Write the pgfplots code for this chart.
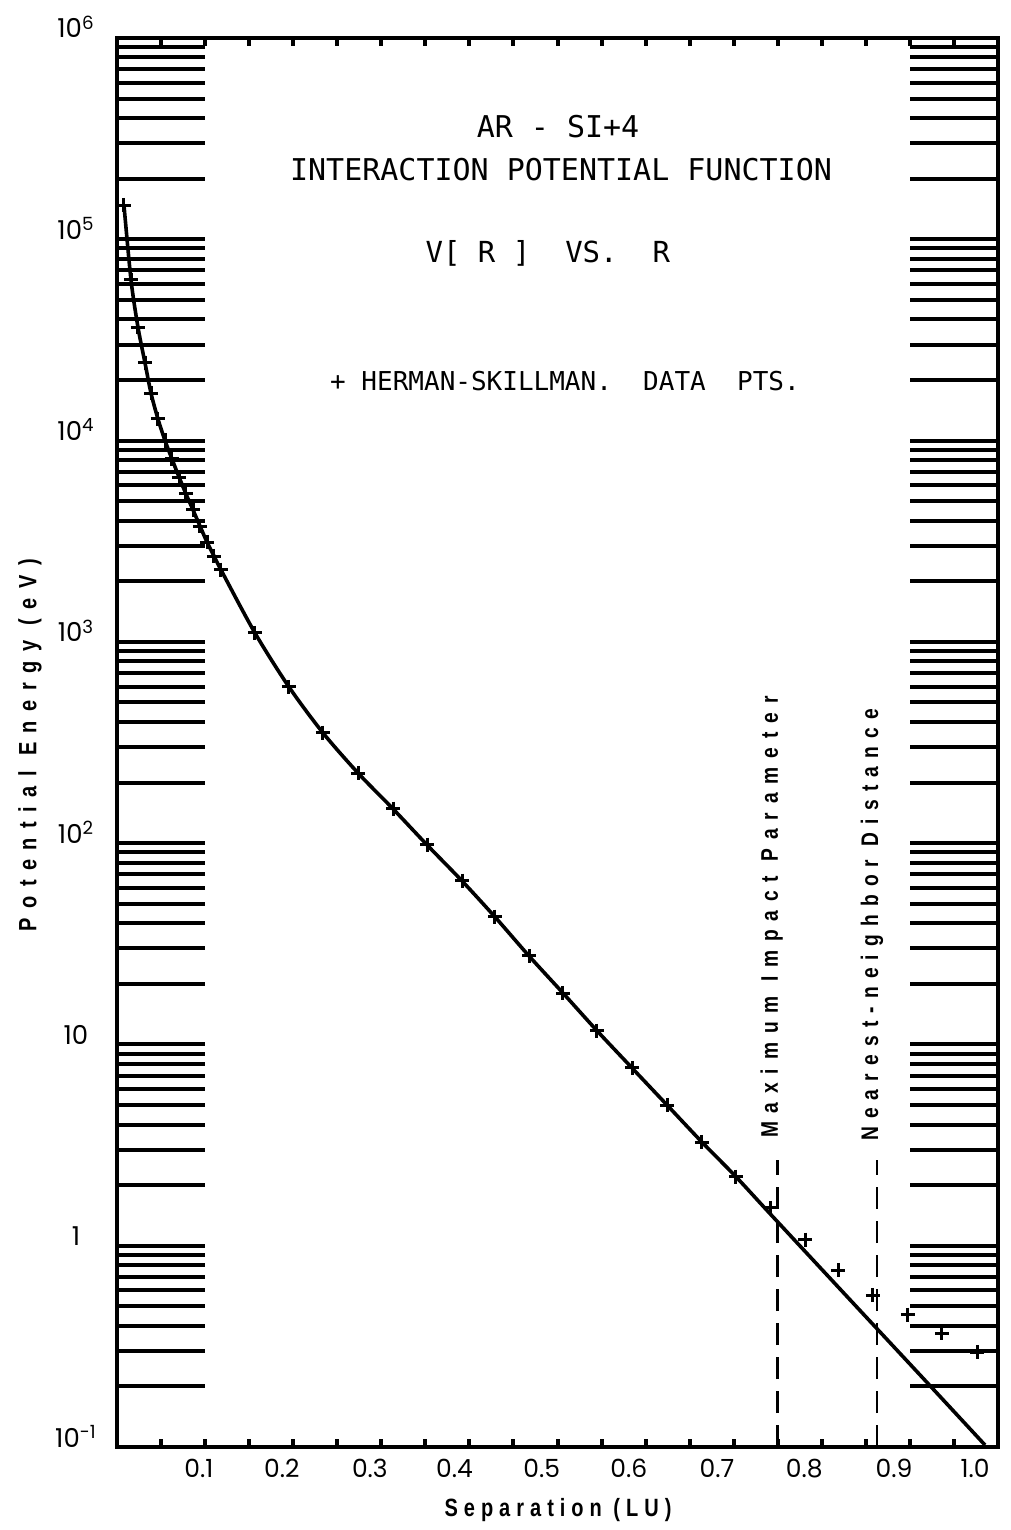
\documentclass[border=0pt]{standalone}
\usepackage{pgfplots}
\pgfplotsset{compat=1.18}
\usepackage{fontspec}
\setmainfont{Liberation Sans}
\newfontfamily\tickfont{Poppins}
\newfontfamily\plotter{DejaVu Sans Mono}
\newfontfamily\lblfont[FakeStretch=0.8]{Liberation Sans Bold}

\pgfplotstableread{
x v
0.0079 148000
0.0159 62800
0.0238 36600
0.0318 24300
0.0386 17200
0.0465 12800
0.0545 10000
0.0624 8100
0.0704 6590
0.0783 5430
0.0863 4520
0.0942 3760
0.1022 3130
0.1101 2670
0.1180 2280
0.1566 1107
0.1952 597
0.2338 353
0.2736 223
0.3133 148
0.3519 98
0.3916 64.9
0.4290 43.0
0.4677 27.5
0.5062 18.0
0.5448 11.7
0.5846 7.64
0.6243 5.00
0.6640 3.27
0.7026 2.20
0.7423 1.54
0.7810 1.07
0.8184 0.757
0.8581 0.569
0.8978 0.453
0.9364 0.368
0.9762 0.296
}\hsdata

\pgfplotstableread{
x v
0.0079 148000
0.0159 62800
0.0238 36600
0.0318 24300
0.0386 17200
0.0465 12800
0.0545 10000
0.0624 8100
0.0704 6590
0.0783 5430
0.0863 4520
0.0942 3760
0.1022 3130
0.1101 2670
0.1180 2280
0.1566 1107
0.1952 597
0.2338 353
0.2736 223
0.3133 148
0.3519 98
0.3916 64.9
0.4290 43.0
0.4677 27.5
0.5062 18.0
0.5448 11.7
0.5846 7.64
0.6243 5.00
0.6640 3.27
0.7026 2.20
0.7423 1.426
0.8320 0.539
0.9115 0.228
0.9852 0.1023
}\fitcurve

\begin{document}
\begin{tikzpicture}
\useasboundingbox (-58.5pt,-41.5pt) rectangle (447pt,723.5pt);
\begin{axis}[
  at={(0,0)}, anchor=south west,
  scale only axis, width=440.5pt, height=704.5pt,
  xmin=0, xmax=1, ymode=log, ymin=0.1, ymax=1e6,
  axis line style={line width=2pt},
  tick align=inside,
  major tick length=44pt, minor tick length=44pt,
  tick style={line width=2pt, black},
  ytick={0.1,1,10,100,1000,10000,100000,1000000},
  yticklabels={10\textsuperscript{-1},1,10,10\textsuperscript{2},10\textsuperscript{3},10\textsuperscript{4},10\textsuperscript{5},10\textsuperscript{6}},
  minor ytick={0.2,0.3,0.4,0.5,0.6,0.7,0.8,0.9,
    2,3,4,5,6,7,8,9,20,30,40,50,60,70,80,90,
    200,300,400,500,600,700,800,900,
    2000,3000,4000,5000,6000,7000,8000,9000,
    20000,30000,40000,50000,60000,70000,80000,90000,
    200000,300000,400000,500000,600000,700000,800000,900000},
  xtick={0.093,0.187,0.287,0.383,0.482,0.581,0.681,0.780,0.882,0.974},
  xticklabels={0.1,0.2,0.3,0.4,0.5,0.6,0.7,0.8,0.9,1.0},
  xtick style={draw=none},
  yticklabel style={font=\tickfont\fontsize{13}{15}\selectfont, anchor=base, xshift=-20.5pt},
  xticklabel style={font=\tickfont\fontsize{12.5}{14}\selectfont, anchor=base, yshift=-15pt},
  clip=true,
]
\addplot[black, line width=1.8pt, smooth, tension=0.5] table[x=x,y=v] {\fitcurve};
\addplot[black, only marks, mark=+, mark size=3.6pt, mark options={line width=1.5pt}] table[x=x,y=v] {\hsdata};
\addplot[black, line width=1.3pt, dash pattern=on 11pt off 6pt] coordinates {(0.75,0.1) (0.75,2.67)};
\addplot[black, line width=1.3pt, dash pattern=on 11pt off 6pt] coordinates {(0.8627,0.1) (0.8627,2.67)};
\end{axis}
\begin{axis}[
  at={(0,0)}, anchor=south west,
  scale only axis, width=440.5pt, height=704.5pt,
  xmin=0, xmax=1, ymin=0, ymax=1,
  axis line style={line width=2pt},
  tick align=inside,
  major tick length=4pt,
  tick style={line width=2pt, black},
  xtick={0.05,0.1,0.15,0.2,0.25,0.3,0.35,0.4,0.45,0.5,0.55,0.6,0.65,0.7,0.75,0.8,0.85,0.9,0.95},
  xticklabels={},
  ytick=\empty,
  clip=false,
]
\node[font=\plotter\fontsize{15}{18}\selectfont] at (axis description cs:0.5006,0.9368) {AR - SI+4};
\node[font=\plotter\fontsize{15}{18}\selectfont] at (axis description cs:0.504,0.9063) {INTERACTION POTENTIAL FUNCTION};
\node[font=\plotter\fontsize{14.5}{18}\selectfont] at (axis description cs:0.489,0.8474) {V[ R ]\ \ VS.\ \ R};
\node[font=\plotter\fontsize{13}{18}\selectfont] at (axis description cs:0.5085,0.7566) {+ HERMAN-SKILLMAN.\ \ DATA\ \ PTS.};
\node[rotate=90, font=\lblfont\fontsize{12.5}{14}\selectfont\addfontfeature{LetterSpace=38}] at (axis description cs:-0.0988,0.498) {Potential\ Energy\ (eV)};
\node[font=\lblfont\fontsize{12.5}{14}\selectfont\addfontfeature{LetterSpace=24}] at (axis description cs:0.5006,-0.0447) {Separation\ (LU)};
\node[rotate=90, anchor=west, font=\lblfont\fontsize{12}{14}\selectfont\addfontfeature{LetterSpace=37}] at (axis description cs:0.743,0.2143) {Maximum Impact Parameter};
\node[rotate=90, anchor=west, font=\lblfont\fontsize{12}{14}\selectfont\addfontfeature{LetterSpace=34}] at (axis description cs:0.857,0.2122) {Nearest-neighbor Distance};
\end{axis}
\end{tikzpicture}
\end{document}
